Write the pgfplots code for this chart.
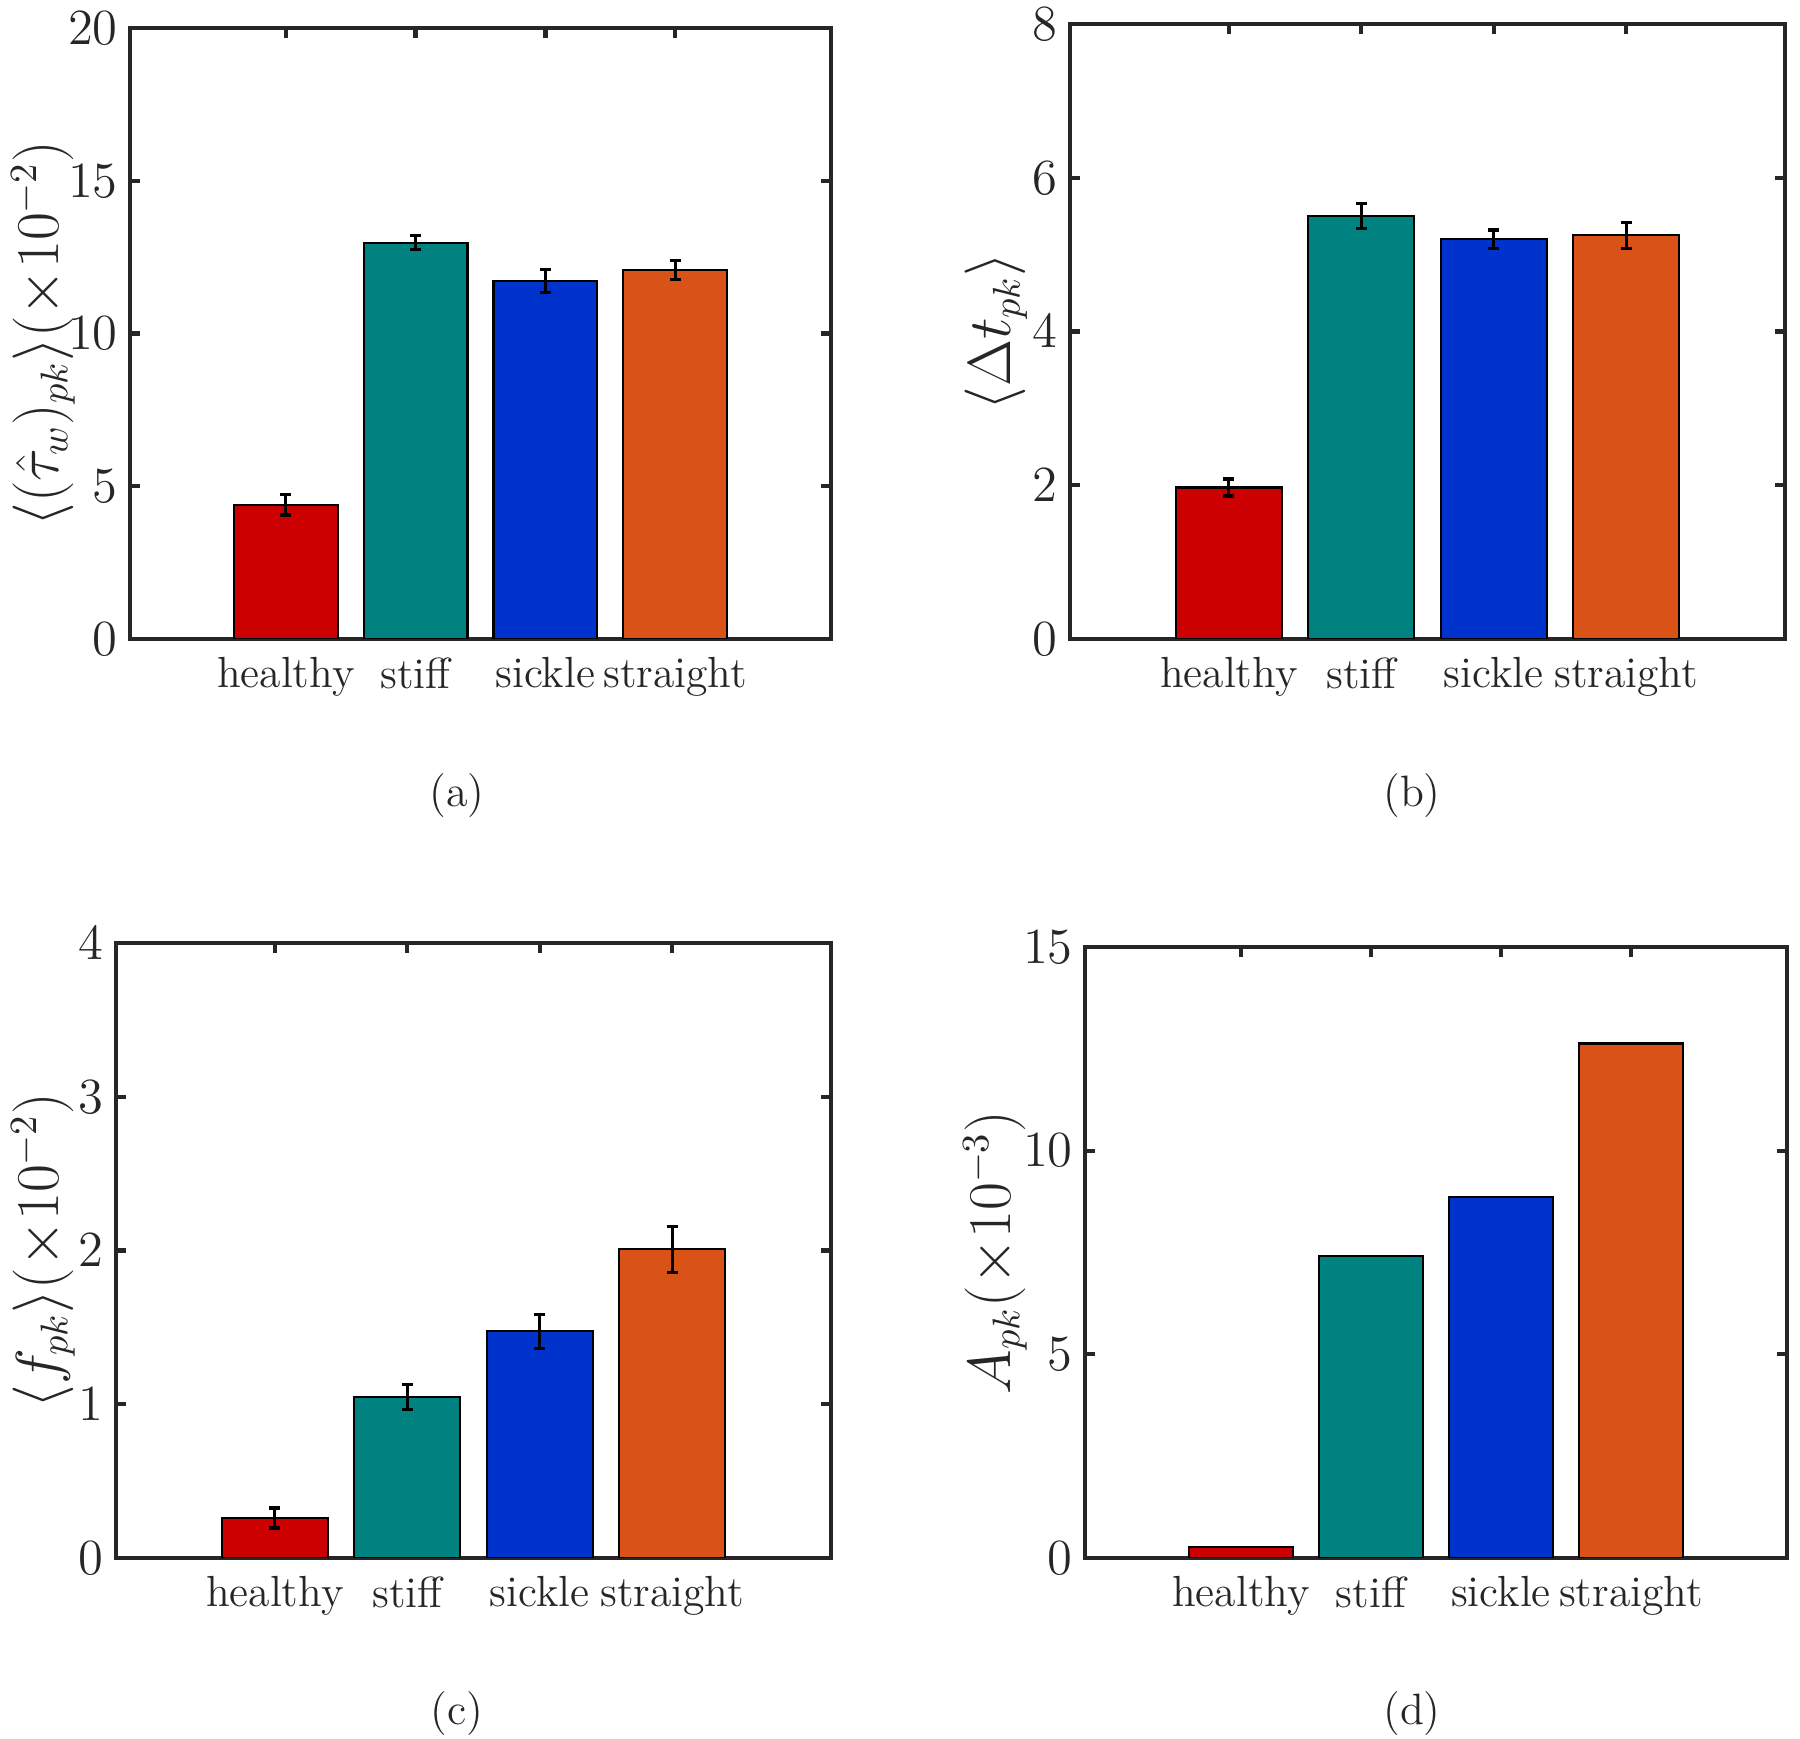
\documentclass[border=0pt]{standalone}
\usepackage{pgfplots}
\pgfplotsset{compat=1.18}
\definecolor{cred}{RGB}{204,0,0}
\definecolor{cteal}{RGB}{0,130,128}
\definecolor{cblue}{RGB}{0,51,204}
\definecolor{corange}{RGB}{217,83,25}
\definecolor{axgray}{RGB}{38,38,38}
\pgfplotsset{
  mybar/.style={
    scale only axis, anchor=south west,
    xmin=-0.2, xmax=5.2, ymin=0,
    xtick={1,2,3,4}, xticklabels={healthy,stiff,sickle,straight},
    tick align=inside,
    axis line style={line width=1.2pt, draw=axgray},
    major tick length=1.0mm,
    every tick/.style={line width=1.2pt, draw=axgray},
    xticklabel style={font=\fontsize{12.4}{14}\selectfont, text=axgray, yshift=-0.6mm},
    yticklabel style={font=\fontsize{13.3}{15}\selectfont, text=axgray},
    label style={font=\fontsize{16}{19}\selectfont, text=axgray},
  },
  ylab/.style={ylabel style={at={(axis description cs:#1,0.5)}, anchor=center, inner sep=0pt, rotate=0}},
  bb/.style={ybar, bar width=0.8, bar shift=0pt, draw=black, line width=0.6pt, fill=#1},
  eb/.style={error bars/.cd, y dir=both, y explicit,
    error bar style={line width=0.9pt, black},
    error mark options={line width=0.9pt, black, mark size=0.55mm, rotate=90}},
}
\begin{document}
\begin{tikzpicture}
\useasboundingbox (0,0) rectangle (180mm,173.9mm);
% (a)
\begin{axis}[mybar, at={(13mm,110mm)}, width=70.1mm, height=61.1mm,
  ymax=20, ytick={0,5,10,15,20}, ylab=-0.124,
  ylabel={$\langle(\hat{\tau}_w)_{pk}\rangle(\times10^{-2})$}]
\addplot[bb=cred, eb] coordinates {(1,4.39) +- (0,0.33)};
\addplot[bb=cteal, eb] coordinates {(2,12.97) +- (0,0.23)};
\addplot[bb=cblue, eb] coordinates {(3,11.72) +- (0,0.37)};
\addplot[bb=corange, eb] coordinates {(4,12.07) +- (0,0.31)};
\end{axis}
% (b)
\begin{axis}[mybar, at={(107mm,110mm)}, width=71.5mm, height=61.5mm,
  ymax=8, ytick={0,2,4,6,8}, ylab=-0.1035,
  ylabel={$\langle\Delta t_{pk}\rangle$}]
\addplot[bb=cred, eb] coordinates {(1,1.97) +- (0,0.11)};
\addplot[bb=cteal, eb] coordinates {(2,5.50) +- (0,0.16)};
\addplot[bb=cblue, eb] coordinates {(3,5.20) +- (0,0.12)};
\addplot[bb=corange, eb] coordinates {(4,5.25) +- (0,0.17)};
\end{axis}
% (c)
\begin{axis}[mybar, at={(11.6mm,18.1mm)}, width=71.5mm, height=61.5mm,
  ymax=4, ytick={0,1,2,3,4}, ylab=-0.102,
  ylabel={$\langle f_{pk}\rangle(\times10^{-2})$}]
\addplot[bb=cred, eb] coordinates {(1,0.26) +- (0,0.065)};
\addplot[bb=cteal, eb] coordinates {(2,1.047) +- (0,0.08)};
\addplot[bb=cblue, eb] coordinates {(3,1.475) +- (0,0.11)};
\addplot[bb=corange, eb] coordinates {(4,2.007) +- (0,0.15)};
\end{axis}
% (d)
\begin{axis}[mybar, at={(108.5mm,18.1mm)}, width=70.2mm, height=61.1mm,
  ymax=15, ytick={0,5,10,15}, ylab=-0.128,
  ylabel={$A_{pk}(\times10^{-3})$}]
\addplot[bb=cred] coordinates {(1,0.27)};
\addplot[bb=cteal] coordinates {(2,7.42)};
\addplot[bb=cblue] coordinates {(3,8.86)};
\addplot[bb=corange] coordinates {(4,12.63)};
\end{axis}
\node[font=\fontsize{12.5}{14}\selectfont, text=axgray] at (45.7mm,94.3mm) {(a)};
\node[font=\fontsize{12.5}{14}\selectfont, text=axgray] at (141.2mm,94.3mm) {(b)};
\node[font=\fontsize{12.5}{14}\selectfont, text=axgray] at (45.7mm,2.5mm) {(c)};
\node[font=\fontsize{12.5}{14}\selectfont, text=axgray] at (141.2mm,2.5mm) {(d)};
\end{tikzpicture}
\end{document}
